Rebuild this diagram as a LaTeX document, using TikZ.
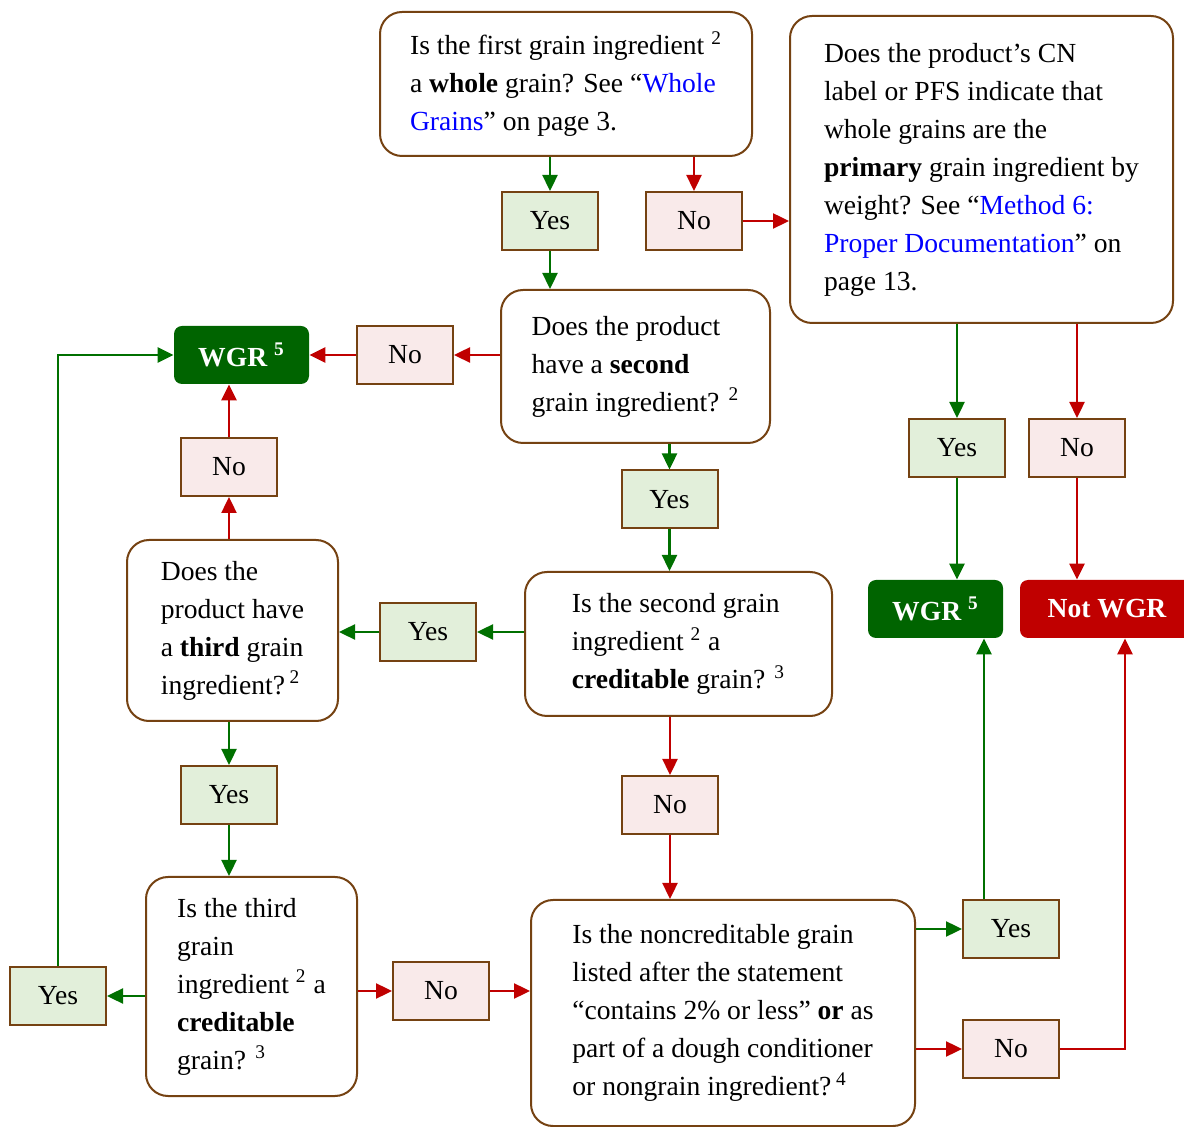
\documentclass[tikz,border=0pt]{standalone}
\usepackage{fontspec}
\setmainfont{Liberation Serif}
\usetikzlibrary{arrows.meta}
\definecolor{boxbrown}{RGB}{117,66,18}
\definecolor{yesfill}{RGB}{226,239,218}
\definecolor{nofill}{RGB}{249,234,234}
\definecolor{yesgreen}{RGB}{0,112,0}
\definecolor{wgrgreen}{RGB}{0,100,0}
\definecolor{nored}{RGB}{192,0,0}
\definecolor{linkblue}{RGB}{0,0,255}
\newcommand{\lnk}[1]{\textcolor{linkblue}{#1}}
\begin{document}
\begin{tikzpicture}[x=0.5pt, y=-0.5pt,
  every node/.style={font=\fontsize{13.8}{19}\selectfont},
  question/.style={draw=boxbrown, line width=1pt, rounded corners=11pt, fill=white, align=left, inner sep=0pt},
  answer/.style={draw=boxbrown, line width=1pt, minimum width=48pt, minimum height=29pt, inner sep=0pt},
  yesbox/.style={answer, fill=yesfill},
  nobox/.style={answer, fill=nofill},
  result/.style={rounded corners=4pt, minimum height=29pt, inner sep=0pt, text=white, font=\fontsize{13.8}{19}\selectfont\bfseries},
  yesline/.style={yesgreen, line width=1.2pt, -{Triangle[length=8pt, width=7.5pt]}},
  noline/.style={nored, line width=1.2pt, -{Triangle[length=8pt, width=7.5pt]}}]
\useasboundingbox (0,0) rectangle (1184,1127);
% Questions
\node[question, minimum width=186pt, minimum height=72pt] (q1) at (566,84)
  {Is the first grain ingredient \textsuperscript{2}\\ a \textbf{whole} grain? See ``\lnk{Whole}\\ \lnk{Grains}'' on page 3.};
\node[question, minimum width=191.5pt, minimum height=153.5pt] (q2) at (981.5,169.5)
  {Does the product's CN\\ label or PFS indicate that\\ whole grains are the\\ \textbf{primary} grain ingredient by\\ weight? See ``\lnk{Method 6:}\\ \lnk{Proper Documentation}'' on\\ page 13.};
\node[question, minimum width=134.5pt, minimum height=76.5pt] (q3) at (635.5,366.5)
  {Does the product\\ have a \textbf{second}\\ grain ingredient? \textsuperscript{2}};
\node[question, minimum width=105.5pt, minimum height=90.5pt] (q4) at (232.5,630.5)
  {Does the\\ product have\\ a \textbf{third} grain\\ ingredient?\,\textsuperscript{2}};
\node[question, minimum width=153.5pt, minimum height=72pt] (q5) at (678.5,644)
  {Is the second grain\\ ingredient \textsuperscript{2} a\\ \textbf{creditable} grain? \textsuperscript{3}};
\node[question, minimum width=105.5pt, minimum height=109.5pt] (q6) at (251.5,986.5)
  {Is the third\\ grain\\ ingredient \textsuperscript{2} a\\ \textbf{creditable}\\ grain? \textsuperscript{3}};
\node[question, minimum width=192pt, minimum height=113pt] (q7) at (723,1013)
  {Is the noncreditable grain\\ listed after the statement\\ ``contains 2\% or less'' \textbf{or} as\\ part of a dough conditioner\\ or nongrain ingredient?\,\textsuperscript{4}};
% Answers
\node[yesbox] (yes1) at (550,221) {Yes};
\node[nobox] (no1) at (694,221) {No};
\node[nobox] (no2) at (405,355) {No};
\node[nobox] (no3) at (229,467) {No};
\node[yesbox] (yes2) at (669.5,499.5) {Yes};
\node[yesbox] (yes3) at (428,632) {Yes};
\node[nobox] (no4) at (670,805) {No};
\node[yesbox] (yes4) at (229,795) {Yes};
\node[yesbox] (yes5) at (58,996) {Yes};
\node[nobox] (no5) at (441,991) {No};
\node[yesbox] (yes6) at (1011,929) {Yes};
\node[nobox] (no6) at (1011,1049) {No};
\node[yesbox] (yes7) at (957,448) {Yes};
\node[nobox] (no7) at (1077,448) {No};
% Results
\node[result, fill=wgrgreen, minimum width=67.5pt] (wgrl) at (241.5,355) {WGR \textsuperscript{5}};
\node[result, fill=wgrgreen, minimum width=67.5pt] (wgrr) at (935.5,609) {WGR \textsuperscript{5}};
\node[result, fill=nored, minimum width=87pt] (notwgr) at (1107,609) {Not WGR};
\coordinate (upyes) at (984,0);
\coordinate (upno) at (1125,0);

\draw[yesline] (q1.south -| yes1.north) -- (yes1.north);
\draw[noline] (q1.south -| no1.north) -- (no1.north);
\draw[noline] (no1.east) -- (no1.east -| q2.west);
\draw[yesline] (yes1.south) -- (yes1.south |- q3.north);
\draw[noline] (no2.east -| q3.west) -- (no2.east);
\draw[noline] (no2.west) -- (wgrl.east);
\draw[yesline] (yes2.north |- q3.south) -- (yes2.north);
\draw[yesline] (yes2.south) -- (yes2.south |- q5.north);
\draw[yesline] (yes3.east -| q5.west) -- (yes3.east);
\draw[yesline] (yes3.west) -- (yes3.west -| q4.east);
\draw[noline] (no3.south |- q4.north) -- (no3.south);
\draw[noline] (no3.north) -- (no3.north |- wgrl.south);
\draw[yesline] (yes4.north |- q4.south) -- (yes4.north);
\draw[yesline] (yes4.south) -- (yes4.south |- q6.north);
\draw[yesline] (yes5.east -| q6.west) -- (yes5.east);
\draw[yesline] (yes5.north) |- (wgrl.west);
\draw[noline] (no5.west -| q6.east) -- (no5.west);
\draw[noline] (no5.east) -- (no5.east -| q7.west);
\draw[noline] (no4.north |- q5.south) -- (no4.north);
\draw[noline] (no4.south) -- (no4.south |- q7.north);
\draw[yesline] (yes6.west -| q7.east) -- (yes6.west);
\draw[noline] (no6.west -| q7.east) -- (no6.west);
\draw[yesline] (yes6.north -| upyes) -- (wgrr.south -| upyes);
\draw[noline] (no6.east) -| (notwgr.south -| upno);
\draw[yesline] (yes7.north |- q2.south) -- (yes7.north);
\draw[noline] (no7.north |- q2.south) -- (no7.north);
\draw[yesline] (yes7.south) -- (yes7.south |- wgrr.north);
\draw[noline] (no7.south) -- (no7.south |- notwgr.north);
\end{tikzpicture}
\end{document}
